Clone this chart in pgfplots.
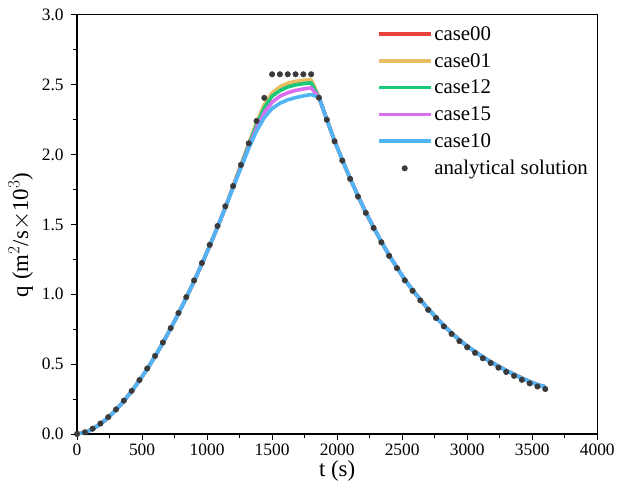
\documentclass[border=0pt]{standalone}
\usepackage{pgfplots}
\usepackage{pgfplotstable}
\pgfplotsset{compat=1.18}
\usepackage{fontspec}
\setmainfont{Liberation Serif}

\definecolor{c00}{RGB}{232,65,60}
\definecolor{c01}{RGB}{232,190,100}
\definecolor{c12}{RGB}{25,200,120}
\definecolor{c15}{RGB}{218,110,238}
\definecolor{c10}{RGB}{80,180,245}
\definecolor{dotc}{RGB}{58,58,58}

\pgfplotstableread{
t c00 c01 c12 c15 c10
0 0 0 0 0 0
60 0.010 0.010 0.010 0.010 0.010
120 0.036 0.036 0.036 0.036 0.036
180 0.072 0.072 0.072 0.072 0.072
240 0.118 0.118 0.118 0.118 0.118
300 0.173 0.173 0.173 0.173 0.173
360 0.236 0.236 0.236 0.236 0.236
420 0.306 0.306 0.306 0.306 0.306
480 0.383 0.383 0.383 0.383 0.383
540 0.466 0.466 0.466 0.466 0.466
600 0.556 0.556 0.556 0.556 0.556
660 0.652 0.652 0.652 0.652 0.652
720 0.755 0.755 0.755 0.755 0.755
780 0.862 0.862 0.862 0.862 0.862
840 0.976 0.976 0.976 0.976 0.976
900 1.094 1.094 1.094 1.094 1.094
960 1.218 1.218 1.218 1.218 1.218
1020 1.347 1.347 1.347 1.347 1.347
1080 1.481 1.481 1.481 1.481 1.481
1140 1.620 1.620 1.620 1.620 1.620
1200 1.772 1.773 1.771 1.768 1.762
1260 1.922 1.924 1.918 1.912 1.905
1320 2.074 2.078 2.068 2.055 2.045
1380 2.222 2.228 2.212 2.190 2.168
1440 2.352 2.358 2.335 2.300 2.265
1500 2.435 2.442 2.418 2.375 2.330
1560 2.480 2.486 2.458 2.418 2.368
1620 2.505 2.511 2.484 2.443 2.392
1680 2.520 2.525 2.499 2.459 2.408
1740 2.528 2.532 2.508 2.470 2.420
1800 2.532 2.536 2.514 2.478 2.430
1860 2.410 2.410 2.410 2.410 2.410
1920 2.252 2.252 2.252 2.252 2.252
1980 2.098 2.098 2.098 2.098 2.098
2040 1.960 1.960 1.960 1.960 1.960
2100 1.829 1.829 1.829 1.829 1.829
2160 1.704 1.704 1.704 1.704 1.704
2220 1.587 1.587 1.587 1.587 1.587
2280 1.479 1.479 1.479 1.479 1.479
2340 1.376 1.376 1.376 1.376 1.376
2400 1.279 1.279 1.279 1.279 1.279
2460 1.191 1.191 1.191 1.191 1.191
2520 1.105 1.105 1.105 1.105 1.105
2580 1.030 1.030 1.030 1.030 1.030
2640 0.961 0.961 0.961 0.961 0.961
2700 0.895 0.895 0.895 0.895 0.895
2760 0.836 0.836 0.836 0.836 0.836
2820 0.777 0.777 0.777 0.777 0.777
2880 0.723 0.723 0.723 0.723 0.723
2940 0.673 0.673 0.673 0.673 0.673
3000 0.629 0.629 0.629 0.629 0.629
3060 0.589 0.589 0.589 0.589 0.589
3120 0.551 0.551 0.551 0.551 0.551
3180 0.517 0.517 0.517 0.517 0.517
3240 0.485 0.485 0.485 0.485 0.485
3300 0.455 0.455 0.455 0.455 0.455
3360 0.427 0.427 0.427 0.427 0.427
3420 0.400 0.400 0.400 0.400 0.400
3480 0.375 0.375 0.375 0.375 0.375
3540 0.353 0.353 0.353 0.353 0.353
3600 0.337 0.337 0.337 0.337 0.337
}\cases

\pgfplotstableread{
t q
0 0
60 0.012
120 0.038
180 0.075
240 0.121
300 0.176
360 0.239
420 0.309
480 0.386
540 0.469
600 0.559
660 0.655
720 0.758
780 0.866
840 0.980
900 1.099
960 1.224
1020 1.354
1080 1.489
1140 1.630
1200 1.775
1260 1.926
1320 2.081
1380 2.241
1440 2.406
1500 2.575
1560 2.575
1620 2.575
1680 2.575
1740 2.575
1800 2.575
1860 2.407
1920 2.250
1980 2.095
2040 1.957
2100 1.826
2160 1.700
2220 1.583
2280 1.475
2340 1.372
2400 1.275
2460 1.187
2520 1.100
2580 1.025
2640 0.956
2700 0.889
2760 0.830
2820 0.770
2880 0.716
2940 0.665
3000 0.621
3060 0.581
3120 0.542
3180 0.508
3240 0.475
3300 0.444
3360 0.416
3420 0.388
3480 0.362
3540 0.340
3600 0.322
}\analytic

\begin{document}
\begin{tikzpicture}
\begin{axis}[
  name=ax,
  scale only axis,
  width=523.5pt, height=421.7pt,
  xmin=0, xmax=4000, ymin=0, ymax=3,
  xtick={0,500,...,4000},
  ytick={0,0.5,...,3},
  minor x tick num=1, minor y tick num=1,
  xtick pos=bottom, ytick pos=left,
  tick align=outside,
  major tick length=6pt, minor tick length=4pt,
  every tick/.style={black, line width=0.9pt},
  axis line style={black, line width=1.1pt},
  /pgf/number format/assume math mode=true,
  tick label style={font=\fontsize{17.5}{20}\selectfont},
  yticklabel style={xshift=-4pt, /pgf/number format/.cd, fixed, fixed zerofill, precision=1},
  xticklabel style={/pgf/number format/.cd, fixed, set thousands separator={}},
  label style={font=\fontsize{23}{25}\selectfont},
  xlabel={t (s)},
  ylabel={q (m$^{2}$/s$\times$10$^{3}$)},
  xlabel style={at={(axis description cs:0.5,0)}, anchor=north, yshift=-23pt},
  ylabel style={at={([xshift=-44pt]axis description cs:0,0.475)}, anchor=south, inner sep=0pt},
  legend style={at={(0.988,0.98)}, anchor=north east, draw=none, fill=none,
    font=\fontsize{21}{26}\selectfont, row sep=7.5pt, inner sep=1pt,
    cells={anchor=west}},
  legend cell align=left,
  legend image code/.code={\draw[#1, line width=3.5pt] (0pt,0pt) -- (52pt,0pt);},
]
\addplot[c00, line width=3.6pt, line join=round] table[x=t, y=c00] {\cases};
\addlegendentry{case00}
\addplot[c01, line width=3.6pt, line join=round] table[x=t, y=c01] {\cases};
\addlegendentry{case01}
\addplot[c12, line width=3.6pt, line join=round] table[x=t, y=c12] {\cases};
\addlegendentry{case12}
\addplot[c15, line width=3.6pt, line join=round] table[x=t, y=c15] {\cases};
\addlegendentry{case15}
\addplot[c10, line width=3.6pt, line join=round] table[x=t, y=c10] {\cases};
\addlegendentry{case10}
\addplot[only marks, mark=*, mark size=2.8pt, dotc, mark options={draw=dotc, fill=dotc},
  legend image code/.code={\draw[mark repeat=2, mark phase=2] plot coordinates {(0pt,0pt) (26pt,0pt) (52pt,0pt)};}]
  table[x=t, y=q] {\analytic};
\addlegendentry{analytical solution}
\end{axis}
\path (ax.south west) ++(-77.5pt,-52.3pt) coordinate (bl);
\path (ax.north east) ++(17pt,15pt) coordinate (tr);
\path (bl) rectangle (tr);
\end{tikzpicture}
\end{document}
